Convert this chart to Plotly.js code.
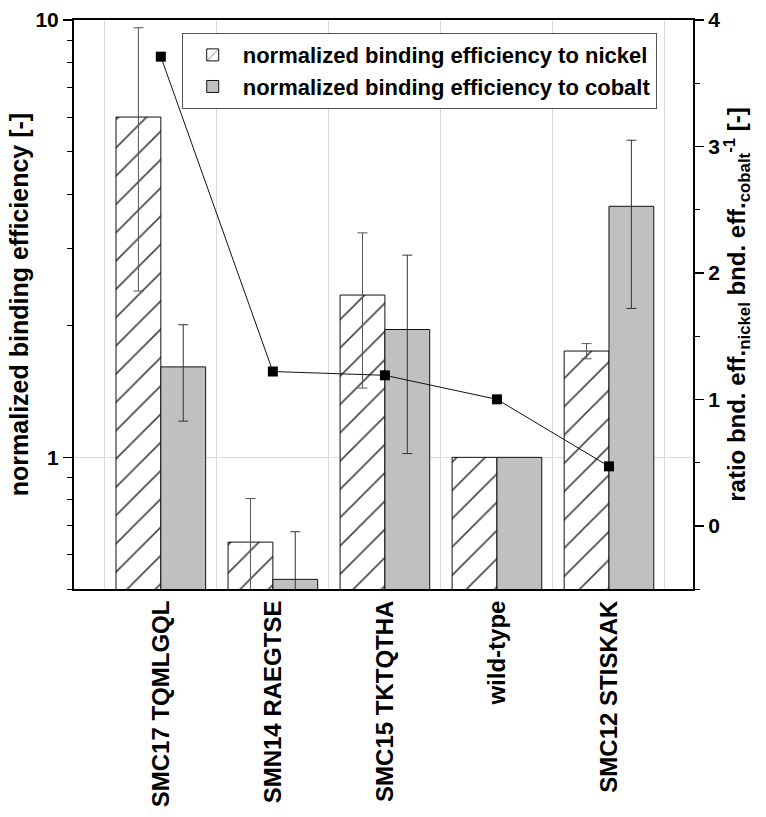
<!DOCTYPE html>
<html>
<head>
<meta charset="utf-8">
<script src="https://cdn.plot.ly/plotly-3.0.1.min.js"></script>
<style>html,body{margin:0;padding:0;background:#fff;}</style>
</head>
<body>
<div id="chart" style="width:766px;height:817px;"></div>
<script>
var categories = ['SMC17 TQMLGQL', 'SMN14 RAEGTSE', 'SMC15 TKTQTHA', 'wild-type', 'SMC12 STISKAK'];
var nickel = [6.0, 0.64, 2.35, 1.0, 1.75];
var nickelErr = [3.6, 0.165, 0.91, null, 0.07];
var cobalt = [1.61, 0.526, 1.96, 1.0, 3.75];
var cobaltErr = [0.4, 0.15, 0.94, null, 1.56];
var ratio = [3.71, 1.22, 1.19, 1.0, 0.47];
var leftMajorTicks = [1, 10];
var leftMinorTicks = [0.5, 0.6, 0.7, 0.8, 0.9, 2, 3, 4, 5, 6, 7, 8, 9];

function errs(a) { return a.map(function (v) { return v === null ? NaN : v; }); }

var FONT = 'Liberation Sans, Arial, sans-serif';

var traces = [
  {
    type: 'bar', name: 'normalized binding efficiency to nickel',
    x: categories, y: nickel,
    error_y: { type: 'data', array: errs(nickelErr), color: '#555', thickness: 1, width: 5 },
    marker: {
      color: 'white',
      line: { color: '#111', width: 1 },
      pattern: { shape: '/', size: 20, solidity: 0.08, fgcolor: '#444', bgcolor: 'white', fillmode: 'replace' }
    }
  },
  {
    type: 'bar', name: 'normalized binding efficiency to cobalt',
    x: categories, y: cobalt,
    error_y: { type: 'data', array: errs(cobaltErr), color: '#333', thickness: 1, width: 5 },
    marker: { color: '#c0c0c0', line: { color: '#111', width: 1 } }
  },
  {
    type: 'scatter', mode: 'lines+markers', x: categories, y: ratio, yaxis: 'y2',
    showlegend: false,
    line: { color: '#111', width: 1 },
    marker: { symbol: 'square', size: 10, color: '#000' }
  }
];

var layout = {
  width: 766, height: 817,
  margin: { l: 74, r: 73, t: 20, b: 228, pad: 0 },
  paper_bgcolor: 'white', plot_bgcolor: 'white',
  font: { family: FONT, color: '#000', size: 20, weight: 'bold' },
  barmode: 'group', bargap: 0.2, bargroupgap: 0,
  xaxis: {
    type: 'category', range: [-0.775, 4.75],
    tickson: 'boundaries', showgrid: true, gridcolor: '#d9d9d9', gridwidth: 1,
    ticks: '', tickangle: -90,
    tickfont: { family: FONT, size: 24, weight: 'bold', color: '#000' },
    showline: true, linecolor: '#000', linewidth: 2, mirror: true,
    zeroline: false, automargin: false
  },
  yaxis: {
    type: 'log', range: [Math.log10(0.5), 1],
    tickvals: leftMajorTicks, ticktext: ['1', '10'],
    ticks: 'outside', ticklen: 9, tickwidth: 1.5, tickcolor: '#000',
    minor: { tickvals: leftMinorTicks, ticks: 'outside', ticklen: 5, tickwidth: 1, tickcolor: '#000', showgrid: false },
    showgrid: true, gridcolor: '#d9d9d9', gridwidth: 1,
    showline: true, linecolor: '#000', linewidth: 2, zeroline: false,
    tickfont: { family: FONT, size: 21, weight: 'bold', color: '#000' },
    title: { text: 'normalized binding efficiency [-]', standoff: 0,
             font: { family: FONT, size: 25, weight: 'bold', color: '#000' } },
    automargin: false
  },
  yaxis2: {
    overlaying: 'y', side: 'right', range: [-0.5, 4],
    tickmode: 'linear', tick0: 0, dtick: 1,
    ticks: 'outside', ticklen: 9, tickwidth: 1.5, tickcolor: '#000',
    minor: { dtick: 0.5, ticks: 'outside', ticklen: 5, tickwidth: 1, tickcolor: '#000', showgrid: false },
    showgrid: false, zeroline: false,
    showline: true, linecolor: '#000', linewidth: 2,
    tickfont: { family: FONT, size: 21, weight: 'bold', color: '#000' },
    title: { text: 'ratio bnd. eff.<sub>nickel</sub> bnd. eff.<sub>cobalt</sub><sup>-1</sup> [-]', standoff: 8,
             font: { family: FONT, size: 24, weight: 'bold', color: '#000' } },
    automargin: false
  },
  showlegend: true,
  legend: {
    x: 0.174, y: 0.977, xanchor: 'left', yanchor: 'top',
    bgcolor: 'white', bordercolor: '#555', borderwidth: 1,
    font: { family: FONT, size: 22, weight: 'bold', color: '#000' },
    itemwidth: 50, tracegroupgap: 0
  }
};

Plotly.newPlot('chart', traces, layout, { displayModeBar: false, staticPlot: true });
</script>
</body>
</html>
